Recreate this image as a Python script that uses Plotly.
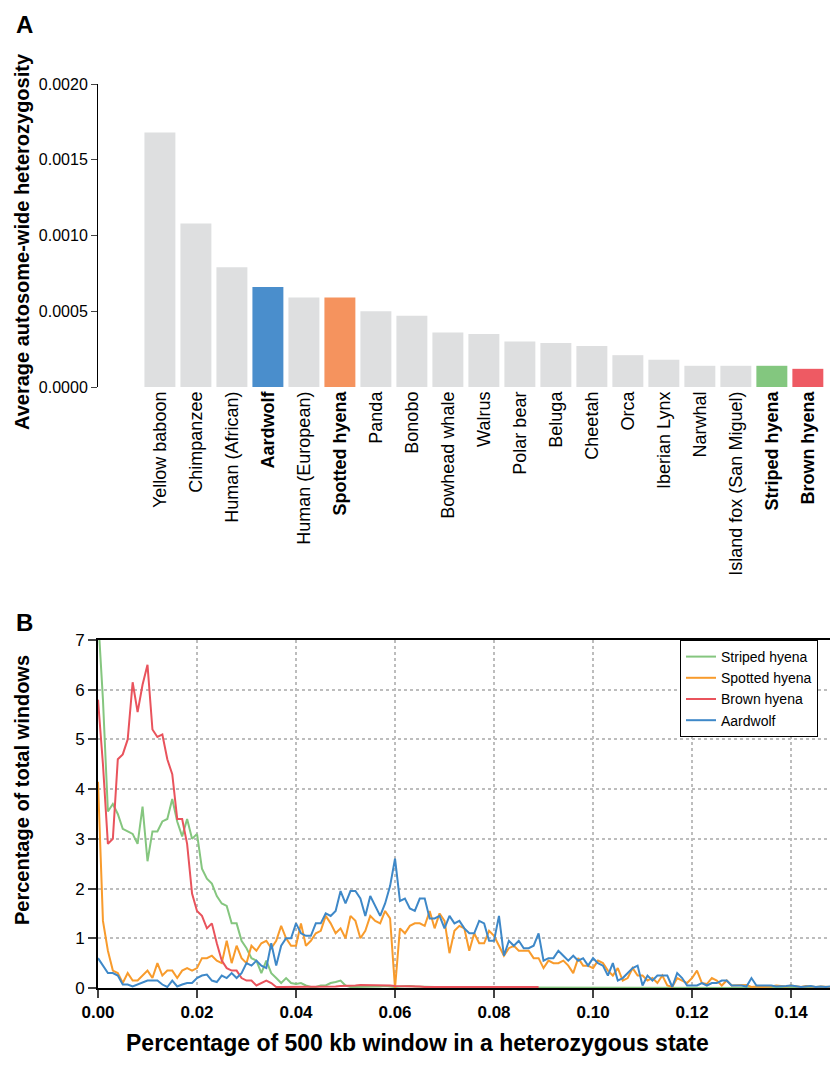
import numpy as np
import plotly.graph_objects as go

# Panel A: heterozygosity per species
species = ["Yellow baboon", "Chimpanzee", "Human (African)", "Aardwolf", "Human (European)",
           "Spotted hyena", "Panda", "Bonobo", "Bowhead whale", "Walrus", "Polar bear", "Beluga",
           "Cheetah", "Orca", "Iberian Lynx", "Narwhal", "Island fox (San Miguel)",
           "Striped hyena", "Brown hyena"]
heterozygosity = [0.00168, 0.00108, 0.00079, 0.00066, 0.00059, 0.00059, 0.00050, 0.00047,
                  0.00036, 0.00035, 0.00030, 0.00029, 0.00027, 0.00021, 0.00018, 0.00014,
                  0.00014, 0.00014, 0.00012]
highlight = {"Aardwolf": "#4A8ECC", "Spotted hyena": "#F5935E",
             "Striped hyena": "#83C77F", "Brown hyena": "#EE5A63"}

# Panel B: distribution of heterozygous windows, bins of 0.001
striped = [7.5, 5.8, 3.55, 3.7, 3.5, 3.2, 3.15, 3.1, 2.9, 3.65, 2.55, 3.15, 3.15, 3.35, 3.4, 3.8,
           3.35, 3.05, 3.4, 3.0, 3.1, 2.4, 2.2, 2.1, 1.85, 1.7, 1.65, 1.3, 1.3, 0.95, 0.8, 0.6,
           0.55, 0.3, 0.55, 0.3, 0.2, 0.1, 0.2, 0.1, 0.08, 0.1, 0.05, 0.02, 0.02, 0.05, 0.05, 0.1,
           0.12, 0.15, 0.05, 0.02, 0.02, 0.02, 0.03, 0.02, 0.02, 0.03, 0.04, 0.03, 0.02, 0.03, 0.04,
           0.04, 0.03, 0.03, 0.02, 0.02, 0.02, 0.01, 0.01] + [0.0] * 81
brown = [5.8, 4.5, 2.9, 3.0, 4.6, 4.7, 5.0, 6.15, 5.55, 6.1, 6.5, 5.2, 5.05, 5.1, 4.6, 4.3,
         3.4, 3.4, 2.9, 1.9, 1.55, 1.45, 1.2, 1.3, 0.9, 0.55, 0.4, 0.35, 0.35, 0.2, 0.15, 0.15,
         0.05, 0.1, 0.15, 0.1, 0.02, 0.02, 0.02, 0.03, 0.02, 0.02, 0.02, 0.02, 0.03, 0.03, 0.02,
         0.03, 0.03, 0.04, 0.04, 0.05, 0.05, 0.06, 0.06, 0.06, 0.06, 0.05, 0.05, 0.05, 0.04,
         0.04, 0.04, 0.03, 0.03, 0.03, 0.02, 0.02, 0.02, 0.02, 0.02, 0.02, 0.02, 0.02, 0.02,
         0.02, 0.02, 0.02, 0.02, 0.02, 0.02, 0.02, 0.02, 0.02, 0.02, 0.02, 0.02, 0.02, 0.02, 0.02]
spotted = [4.15, 1.35, 0.75, 0.35, 0.3, 0.1, 0.3, 0.15, 0.15, 0.25, 0.35, 0.2, 0.5, 0.25,
           0.35, 0.35, 0.2, 0.35, 0.4, 0.35, 0.4, 0.6, 0.6, 0.65, 0.55, 0.5, 0.95, 0.5, 0.85,
           0.6, 0.5, 0.85, 0.75, 0.9, 0.95, 0.8, 0.95, 1.25, 1.0, 0.85, 0.85, 1.3, 0.85, 0.95,
           1.1, 1.15, 1.45, 1.3, 1.1, 1.2, 1.0, 1.45, 1.35, 1.0, 1.15, 1.45, 1.35, 1.3, 1.55,
           1.4, 0.0, 1.2, 1.1, 1.25, 1.3, 1.3, 1.25, 1.55, 1.2, 1.5, 1.35, 0.7, 1.15, 1.25, 1.2,
           0.75, 1.1, 0.9, 0.9, 1.15, 1.05, 0.85, 0.65, 0.8, 0.85, 0.75, 0.75, 0.75, 0.6, 0.6,
           0.4, 0.55, 0.5, 0.5, 0.55, 0.45, 0.3, 0.6, 0.45, 0.45, 0.4, 0.55, 0.5, 0.35, 0.25,
           0.4, 0.15, 0.2, 0.4, 0.25, 0.25, 0.15, 0.2, 0.1, 0.25, 0.05, 0.02, 0.2, 0.15, 0.1,
           0.2, 0.35, 0.1, 0.08, 0.2, 0.15, 0.05, 0.15, 0.05, 0.05, 0.05, 0.06, 0.02, 0.03,
           0.02, 0.02, 0.03, 0.05, 0.04, 0.03, 0.05, 0.03, 0.02, 0.04, 0.03, 0.02, 0.03, 0.02,
           0.02, 0.02, 0.02, 0.02]
aardwolf = [0.6, 0.45, 0.3, 0.3, 0.25, 0.07, 0.07, 0.03, 0.07, 0.12, 0.15, 0.15, 0.15, 0.07,
            0.02, 0.15, 0.03, 0.07, 0.1, 0.1, 0.2, 0.25, 0.27, 0.15, 0.12, 0.25, 0.2, 0.3, 0.2,
            0.3, 0.5, 0.45, 0.55, 0.45, 0.4, 0.9, 0.45, 0.85, 1.0, 1.0, 1.3, 1.1, 1.05, 1.05,
            1.3, 1.3, 1.5, 1.45, 1.55, 1.95, 1.7, 1.95, 1.95, 1.8, 1.45, 1.85, 1.65, 1.45, 1.7,
            2.05, 2.6, 1.75, 1.8, 1.6, 1.55, 1.8, 1.8, 1.4, 1.4, 1.45, 1.2, 1.45, 1.3, 1.35,
            1.2, 1.1, 1.1, 1.35, 1.3, 0.95, 0.95, 1.45, 0.65, 0.95, 0.85, 0.95, 0.8, 0.8, 0.85,
            1.1, 0.55, 0.6, 0.6, 0.75, 0.65, 0.55, 0.65, 0.55, 0.6, 0.45, 0.6, 0.5, 0.45, 0.25,
            0.5, 0.15, 0.2, 0.3, 0.4, 0.45, 0.05, 0.25, 0.15, 0.25, 0.25, 0.25, 0.02, 0.3, 0.2,
            0.05, 0.05, 0.05, 0.1, 0.05, 0.1, 0.1, 0.15, 0.15, 0.05, 0.05, 0.05, 0.03, 0.2, 0.05,
            0.05, 0.05, 0.05, 0.03, 0.03, 0.04, 0.05, 0.03, 0.02, 0.03, 0.04, 0.02, 0.03, 0.02,
            0.03, 0.02, 0.02, 0.02]

FONT = "Liberation Sans, Arial, sans-serif"
bold = {"Aardwolf", "Spotted hyena", "Striped hyena", "Brown hyena"}
H = 1065
L = 90  # left margin; the page adds its own 8 px offset


def py(pix):
    # page pixel row -> paper fraction
    return 1 - (pix - 8) / H


def px(pix):
    # page pixel column -> paper fraction
    return (pix - 8 - L) / (838 - L)


fig = go.Figure()

fig.add_trace(go.Bar(
    x=list(range(len(species))), y=heterozygosity,
    marker=dict(color=[highlight.get(s, "#DEDFE0") for s in species], line=dict(width=0)),
    width=0.86, showlegend=False, xaxis="x", yaxis="y",
))

lines = [("Striped hyena", striped, "#85C67F"), ("Spotted hyena", spotted, "#F89B2C"),
         ("Brown hyena", brown, "#E9535C"), ("Aardwolf", aardwolf, "#3E88C8")]
for name, vals, col in lines:
    xs = np.arange(len(vals)) * 0.001
    fig.add_trace(go.Scatter(x=xs, y=vals, mode="lines", name=name,
                             line=dict(color=col, width=2), xaxis="x2", yaxis="y2"))

ticktext = [f"<b>{s}</b>" if s in bold else s for s in species]
grid = dict(showgrid=True, gridcolor="#BDBDBD", griddash="dot", gridwidth=1.5, zeroline=False)


def label(text, x, y, size, angle=0):
    return dict(text=text, x=px(x), y=py(y), xanchor="center", yanchor="middle",
                xref="paper", yref="paper", showarrow=False, textangle=angle,
                font=dict(size=size))


fig.update_layout(
    width=838, height=H,
    margin=dict(l=L, r=0, t=0, b=0, autoexpand=False),
    plot_bgcolor="white", paper_bgcolor="white",
    font=dict(family=FONT, size=16, color="black"),
    xaxis=dict(domain=[0, 1], range=[-1.72, 19.06], tickmode="array",
               tickvals=list(range(len(species))), ticktext=ticktext, tickangle=-90,
               tickfont=dict(size=18), automargin=False,
               showline=False, ticks="", showgrid=False, zeroline=False),
    yaxis=dict(domain=[py(387), py(84)], range=[0, 0.002], tickvals=[0, 0.0005, 0.001, 0.0015, 0.002],
               ticktext=["0.0000", "0.0005", "0.0010", "0.0015", "0.0020"], automargin=False,
               showline=True, linecolor="black", linewidth=1, ticks="outside", ticklen=6,
               showgrid=False, zeroline=False),
    xaxis2=dict(domain=[0, 1], anchor="y2", range=[0, 0.1511], automargin=False,
                tickvals=[0, 0.02, 0.04, 0.06, 0.08, 0.1, 0.12, 0.14],
                ticktext=["<b>0.00</b>", "<b>0.02</b>", "<b>0.04</b>", "<b>0.06</b>", "<b>0.08</b>",
                          "<b>0.10</b>", "<b>0.12</b>", "<b>0.14</b>"],
                tickfont=dict(size=17),
                showline=True, linecolor="black", linewidth=2, mirror=True,
                ticks="outside", ticklen=8, tickwidth=2, **grid),
    yaxis2=dict(domain=[py(988), py(640)], anchor="x2", range=[0, 7], dtick=1, automargin=False,
                tickfont=dict(size=17),
                showline=True, linecolor="black", linewidth=2, mirror=True,
                ticks="outside", ticklen=8, tickwidth=2, **grid),
    legend=dict(x=px(680), y=py(640), xanchor="left", yanchor="top", bgcolor="white",
                bordercolor="black", borderwidth=1, font=dict(size=14), tracegroupgap=0),
    annotations=[
        label("<b>A</b>", 24, 24, 24),
        label("<b>B</b>", 24, 622, 24),
        label("<b>Average autosome-wide heterozygosity</b>", 22, 242, 20, -90),
        label("<b>Percentage of total windows</b>", 22, 790, 20, -90),
        label("<b>Percentage of 500 kb window in a heterozygous state</b>", 417, 1043, 23),
    ],
)

fig.write_html("out.html")
